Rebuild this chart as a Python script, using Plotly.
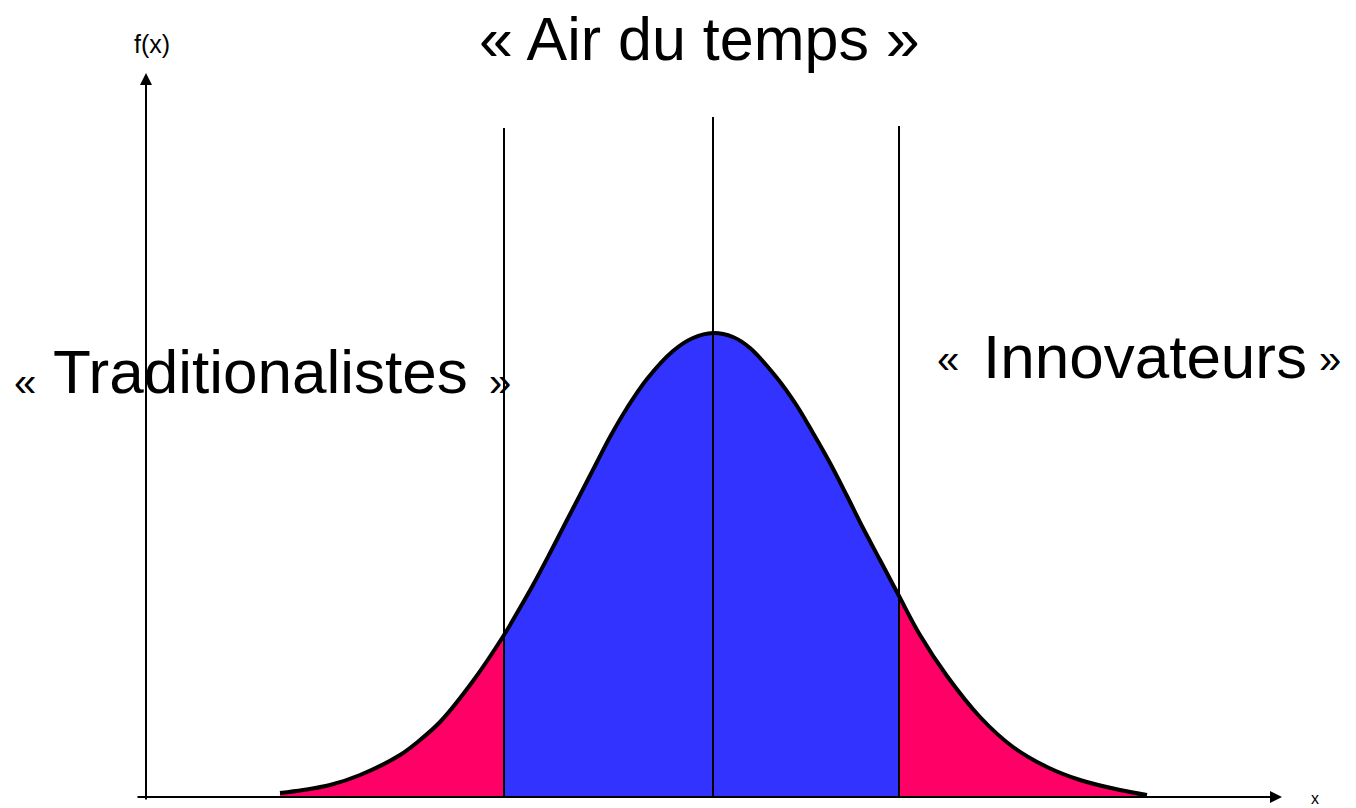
import plotly.graph_objects as go

# Values (x position, curve height above the x axis)
curve_x = [280, 303, 330, 360, 400, 420, 440, 473, 504, 517, 533, 550, 567, 580, 597, 610, 627,
           647, 673, 693, 713, 733, 750, 777, 797, 813, 830, 847, 863, 880, 899, 920, 947,
           980, 1013, 1047, 1080, 1120, 1147]
curve_y = [4, 7, 12, 22, 42, 57, 75, 116, 162, 184, 212, 244, 277, 302, 335, 360, 389,
           418, 446, 459, 464, 460, 449, 419, 391, 364, 334, 301, 269, 237, 201, 162, 121,
           80, 50, 30, 17, 7, 2]

boundary_x = [504, 713, 899]
boundary_top = [669, 680, 671]
left_cut, right_cut = 504, 899

region_labels = ["« Air du temps »", "« Traditionalistes »", "« Innovateurs »"]
axis_labels = ["f(x)", "x"]

PINK = "#FF0066"
BLUE = "#3333FF"

def subset(lo, hi):
    xs, ys = [], []
    for x, y in zip(curve_x, curve_y):
        if lo <= x <= hi:
            xs.append(x)
            ys.append(y)
    return xs, ys

fig = go.Figure()

for (lo, hi, col) in [(0, left_cut, PINK), (left_cut, right_cut, BLUE), (right_cut, 10000, PINK)]:
    xs, ys = subset(lo, hi)
    fig.add_trace(go.Scatter(x=xs, y=ys, mode="none", fill="tozeroy", fillcolor=col,
                             line_shape="spline", hoverinfo="skip", showlegend=False))

fig.add_trace(go.Scatter(x=curve_x, y=curve_y, mode="lines",
                         line=dict(color="black", width=4, shape="spline"),
                         hoverinfo="skip", showlegend=False))

vx, vy = [], []
for bx, bt in zip(boundary_x, boundary_top):
    vx += [bx, bx, None]
    vy += [0, bt, None]
fig.add_trace(go.Scatter(x=vx, y=vy, mode="lines", line=dict(color="black", width=2),
                         hoverinfo="skip", showlegend=False))

# axes as arrows
fig.add_annotation(x=1282, y=0, ax=136, ay=0, xref="x", yref="y", axref="x", ayref="y",
                   showarrow=True, arrowhead=2, arrowsize=1.2, arrowwidth=2, arrowcolor="black", text="")
fig.add_annotation(x=146, y=724, ax=146, ay=-4, xref="x", yref="y", axref="x", ayref="y",
                   showarrow=True, arrowhead=2, arrowsize=1.2, arrowwidth=2, arrowcolor="black", text="")

FONT = "Liberation Sans, Arial, sans-serif"

def txt(x, y, s, size):
    fig.add_annotation(x=x, y=y, text=s, showarrow=False, borderpad=0,
                       font=dict(family=FONT, size=size, color="black"),
                       xanchor="center", yanchor="middle")

txt(699, 758, region_labels[0], 61)

trad = region_labels[1]
txt(25, 415, trad[0], 40)
txt(260, 426, trad[2:-2], 62)
txt(500, 415, trad[-1], 40)

inno = region_labels[2]
txt(948, 438, inno[0], 40)
txt(1145, 441, inno[2:-2], 62)
txt(1330, 438, inno[-1], 40)

txt(152, 753, axis_labels[0], 25)
txt(1315, -1, axis_labels[1], 16)

fig.update_layout(width=1356, height=808, margin=dict(l=0, r=0, t=0, b=0),
                  paper_bgcolor="white", plot_bgcolor="white",
                  xaxis=dict(range=[0, 1356], visible=False, fixedrange=True),
                  yaxis=dict(range=[-11, 797], visible=False, fixedrange=True),
                  showlegend=False)

# remove the default page margin so the figure fills the window exactly
fig.write_html("out.html", config={"displayModeBar": False},
               post_script="document.body.style.margin='0';")
